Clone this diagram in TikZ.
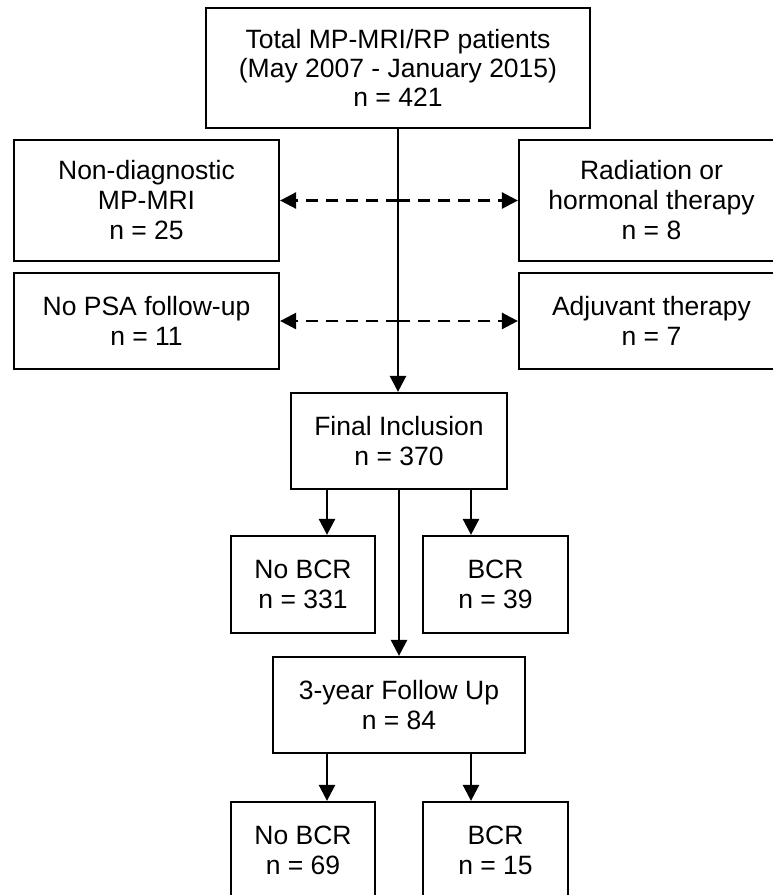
\documentclass[tikz,border=0pt]{standalone}
\usepackage{fontspec}
\setmainfont{Liberation Sans}
\usetikzlibrary{arrows.meta}

\begin{document}
\begin{tikzpicture}[x=1pt,y=-1pt,
	box/.style={draw,line width=2.2pt,align=center,inner sep=0pt,font=\fontsize{26.5}{30}\selectfont},
	arr/.style={line width=2.5pt,-{Triangle[length=16pt,width=16pt]}},
	darr/.style={arr,dash pattern=on 12pt off 8pt}]
	\useasboundingbox (0,0) rectangle (773,895);

	\node[box,minimum width=384pt,minimum height=120pt,font=\fontsize{26.5}{29}\selectfont] (total) at (398,68) {Total MP-MRI/RP patients\\(May 2007 - January 2015)\\n = 421};

	\node[box,minimum width=265pt,minimum height=121pt] (nondiag) at (146.5,200.5) {Non-diagnostic\\MP-MRI\\n = 25};
	\node[box,minimum width=265pt,minimum height=96pt] (nopsa) at (146.5,321) {No PSA follow-up\\n = 11};
	\node[box,minimum width=265pt,minimum height=121pt] (rad) at (651.5,200.5) {Radiation or\\hormonal therapy\\n = 8};
	\node[box,minimum width=265pt,minimum height=96pt] (adj) at (651.5,321) {Adjuvant therapy\\n = 7};

	\node[box,minimum width=216pt,minimum height=96pt] (final) at (399,441) {Final Inclusion\\n = 370};
	\node[box,minimum width=144pt,minimum height=97pt] (nobcr) at (303,584.5) {No BCR\\n = 331};
	\node[box,minimum width=145pt,minimum height=97pt] (bcr) at (495.5,584.5) {BCR\\n = 39};

	\node[box,minimum width=252pt,minimum height=96pt] (fu) at (399,705) {3-year Follow Up\\n = 84};
	\node[box,minimum width=144pt,minimum height=97pt] (funobcr) at (303,850.5) {No BCR\\n = 69};
	\node[box,minimum width=145pt,minimum height=97pt] (fubcr) at (495.5,850.5) {BCR\\n = 15};

	\draw[arr] (total.south) -- (total.south |- final.north);
	\coordinate (ex1) at (total.south |- nondiag.east);
	\coordinate (ex2) at (total.south |- nopsa.east);
	\draw[darr] (ex1) -- (nondiag.east);
	\draw[darr] (ex1) -- (rad.west);
	\draw[darr] (ex2) -- (nopsa.east);
	\draw[darr] (ex2) -- (adj.west);

	\draw[arr] ([xshift=-72pt]final.south) -- ([xshift=-72pt]final.south |- nobcr.north);
	\draw[arr] ([xshift=72pt]final.south) -- ([xshift=72pt]final.south |- bcr.north);
	\draw[arr] (final.south) -- (fu.north);

	\draw[arr] ([xshift=-72pt]fu.south) -- ([xshift=-72pt]fu.south |- funobcr.north);
	\draw[arr] ([xshift=72pt]fu.south) -- ([xshift=72pt]fu.south |- fubcr.north);
\end{tikzpicture}
\end{document}
